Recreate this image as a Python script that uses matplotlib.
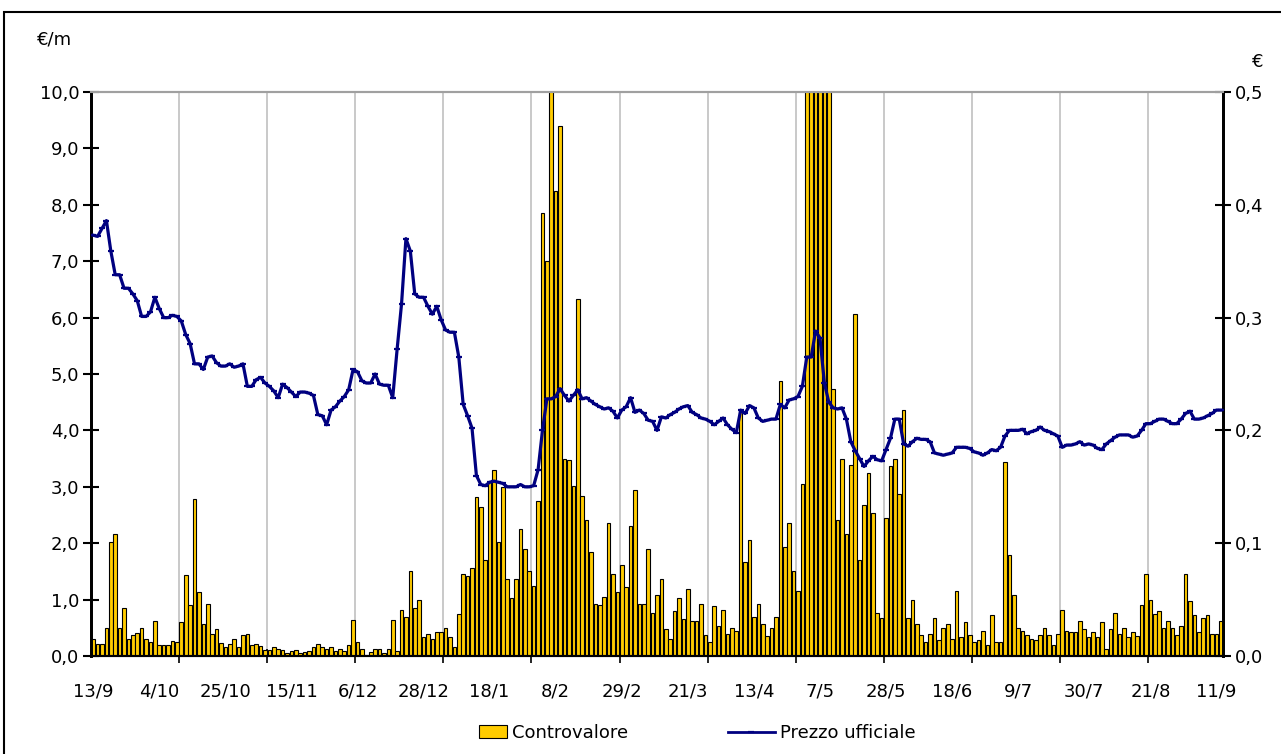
import matplotlib
matplotlib.use("Agg")
import matplotlib.pyplot as plt
import matplotlib.patches as mpatches
from matplotlib.lines import Line2D
from matplotlib.legend_handler import HandlerPatch
from matplotlib.ticker import FuncFormatter, FixedLocator
import numpy as np

# daily traded value (€ millions), one bar per trading day
controvalore = [
    0.31, 0.21, 0.21, 0.50, 2.02, 2.16, 0.50, 0.85, 0.30, 0.37, 0.40, 0.50, 0.30, 0.24, 0.62, 0.19, 0.19, 0.19, 0.27, 0.24, 0.60, 1.43, 0.91, 2.79, 1.13, 0.56,
    0.93, 0.39, 0.47, 0.23, 0.16, 0.21, 0.31, 0.16, 0.37, 0.39, 0.20, 0.22, 0.17, 0.10, 0.11, 0.16, 0.13, 0.11, 0.06, 0.08, 0.10, 0.06, 0.07, 0.08, 0.16, 0.22,
    0.16, 0.13, 0.16, 0.08, 0.13, 0.08, 0.19, 0.64, 0.24, 0.13, 0.02, 0.07, 0.13, 0.13, 0.05, 0.13, 0.64, 0.08, 0.82, 0.70, 1.50, 0.85, 0.99, 0.34, 0.39, 0.31,
    0.42, 0.42, 0.50, 0.34, 0.16, 0.74, 1.45, 1.41, 1.56, 2.82, 2.64, 1.70, 3.10, 3.30, 2.02, 3.00, 1.36, 1.02, 1.36, 2.25, 1.90, 1.50, 1.25, 2.74, 7.86, 7.00,
    10.40, 8.24, 9.39, 3.50, 3.48, 3.02, 6.33, 2.83, 2.41, 1.85, 0.93, 0.90, 1.05, 2.36, 1.45, 1.13, 1.62, 1.22, 2.30, 2.94, 0.93, 0.93, 1.90, 0.77, 1.08, 1.36,
    0.47, 0.31, 0.79, 1.02, 0.65, 1.18, 0.62, 0.62, 0.93, 0.37, 0.24, 0.88, 0.54, 0.82, 0.39, 0.50, 0.45, 4.35, 1.66, 2.05, 0.70, 0.93, 0.56, 0.36, 0.50, 0.70,
    4.87, 1.94, 2.35, 1.51, 1.16, 3.05, 11.5, 13.0, 15.2, 12.4, 10.8, 14.1, 4.73, 2.42, 3.50, 2.17, 3.38, 6.07, 1.71, 2.67, 3.25, 2.53, 0.77, 0.68, 2.44, 3.37,
    3.50, 2.88, 4.36, 0.68, 1.00, 0.57, 0.37, 0.24, 0.39, 0.68, 0.28, 0.49, 0.57, 0.31, 1.16, 0.34, 0.60, 0.37, 0.24, 0.28, 0.45, 0.20, 0.72, 0.24, 0.24, 3.44,
    1.79, 1.08, 0.50, 0.45, 0.37, 0.30, 0.28, 0.37, 0.50, 0.37, 0.20, 0.39, 0.82, 0.45, 0.42, 0.42, 0.62, 0.47, 0.34, 0.42, 0.34, 0.60, 0.13, 0.47, 0.77, 0.39, 0.50,
    0.33, 0.42, 0.36, 0.91, 1.45, 1.00, 0.74, 0.79, 0.50, 0.62, 0.50, 0.37, 0.54, 1.45, 0.97, 0.72, 0.42, 0.68, 0.72, 0.39, 0.39, 0.62,
]

# official price (€)
prezzo = [
    .373, .372, .379, .386, .359, .338, .338, .326, .326, .321, .315, .301, .301, .305, .318, .308, .300, .300, .302, .301, .297, .285, .277, .259, .259, .254,
    .265, .266, .260, .257, .257, .259, .256, .257, .259, .239, .239, .245, .247, .242, .239, .235, .229, .241, .238, .234, .230, .234, .234, .233, .231, .214,
    .213, .205, .218, .221, .226, .230, .236, .254, .252, .244, .242, .242, .250, .241, .240, .240, .229, .272, .312, .370, .359, .321, .318, .318, .310, .303,
    .310, .298, .289, .287, .287, .265, .223, .213, .202, .160, .152, .151, .154, .155, .154, .153, .150, .150, .150, .152, .150, .150, .151, .165, .200, .228,
    .228, .230, .237, .231, .226, .231, .236, .228, .229, .226, .223, .221, .219, .220, .217, .211, .218, .221, .229, .216, .218, .215, .209, .208, .200, .212,
    .211, .214, .216, .219, .221, .222, .216, .214, .211, .210, .208, .205, .208, .211, .205, .201, .198, .218, .215, .222, .220, .211, .208, .209, .210, .210,
    .223, .220, .227, .228, .230, .239, .265, .265, .288, .282, .242, .225, .220, .219, .220, .210, .190, .182, .175, .168, .173, .177, .174, .173, .183, .193,
    .210, .210, .188, .186, .190, .193, .192, .192, .190, .180, .179, .178, .179, .180, .185, .185, .185, .184, .181, .180, .178, .180, .183, .182, .185, .195,
    .200, .200, .200, .201, .197, .199, .200, .203, .200, .199, .197, .195, .185, .187, .187, .188, .190, .187, .188, .187, .184, .183, .188, .191, .194, .196, .196,
    .196, .194, .195, .200, .206, .206, .208, .210, .210, .208, .206, .206, .210, .215, .217, .210, .210, .211, .213, .215, .218, .218,
]

date_labels = ["13/9", "4/10", "25/10", "15/11", "6/12", "28/12", "18/1", "8/2", "29/2",
               "21/3", "13/4", "7/5", "28/5", "18/6", "9/7", "30/7", "21/8", "11/9"]

W, H = 1281, 754
fig = plt.figure(figsize=(W / 100, H / 100), dpi=100)
ax = fig.add_axes([91 / W, (H - 656) / H, (1223 - 91) / W, (656 - 92) / H])
ax2 = ax.twinx()

n = len(controvalore)
x = np.arange(n)
ax.bar(x, controvalore, width=0.82, color="#FFCC00", edgecolor="black", linewidth=0.8, zorder=2)
ax2.plot(np.arange(len(prezzo)), prezzo, color="#000080", lw=2.3, marker="_", ms=5, mew=1.6,
         solid_joinstyle="round", zorder=3)

ax.set_xlim(-0.5, n - 0.5)
ax.set_ylim(0, 10)
ax2.set_ylim(0, 0.5)
ax.set_yticks(np.arange(0, 10.01, 1))
ax2.set_yticks(np.arange(0, 0.501, 0.1))
comma = lambda d: FuncFormatter(lambda v, p: f"{v:.{d}f}".replace(".", ","))
ax.yaxis.set_major_formatter(comma(1))
ax2.yaxis.set_major_formatter(comma(1))

# date labels every 15 days, grid/ticks every 20 days
ax.xaxis.set_major_locator(FixedLocator(np.arange(0, n, 15)))
ax.set_xticklabels(date_labels[:len(np.arange(0, n, 15))])
ax.xaxis.set_minor_locator(FixedLocator(np.arange(19.5, n - 1, 20)))
ax.tick_params(axis="x", which="major", length=0, pad=19, labelsize=13)
ax.tick_params(axis="x", which="minor", direction="inout", length=10, width=1.2)
ax.grid(axis="x", which="minor", color="#C0C0C0", lw=1.2, zorder=0)
ax.set_axisbelow(True)

ax.tick_params(axis="y", direction="inout", length=11, width=1.5, pad=3, labelsize=13)
ax2.tick_params(axis="y", direction="inout", length=11, width=1.5, pad=3, labelsize=13)

for a in (ax, ax2):
    a.spines["top"].set_color("#A0A0A0")
    a.spines["top"].set_linewidth(1.5)
    a.spines["bottom"].set_linewidth(1.5)
    a.spines["left"].set_linewidth(2)
    a.spines["right"].set_linewidth(2)

fig.text(37 / W, 1 - 40 / H, "€/m", fontsize=13, ha="left", va="center")
fig.text(1252 / W, 1 - 62 / H, "€", fontsize=13, ha="left", va="center")


def small_patch(legend, orig_handle, xdescent, ydescent, width, height, fontsize):
    return mpatches.Rectangle((-xdescent + 0.4 * width, -ydescent), 0.6 * width, height)


handles = [mpatches.Patch(facecolor="#FFCC00", edgecolor="black", linewidth=0.8),
           Line2D([], [], color="#000080", lw=2, marker="_", ms=5, mew=1.6)]
fig.legend(handles, ["Controvalore", "Prezzo ufficiale"], loc="center",
           bbox_to_anchor=(688 / W, 1 - 733 / H), ncol=2, frameon=False, fontsize=13,
           handlelength=2.6, handletextpad=0.3, columnspacing=5.5,
           handler_map={mpatches.Patch: HandlerPatch(patch_func=small_patch)})

fig.add_artist(mpatches.Rectangle((4 / W, -0.1), 1.2, 1.1 - 12 / H, transform=fig.transFigure,
                                  fill=False, edgecolor="black", lw=1.5))

fig.savefig("out.png", dpi=100)
